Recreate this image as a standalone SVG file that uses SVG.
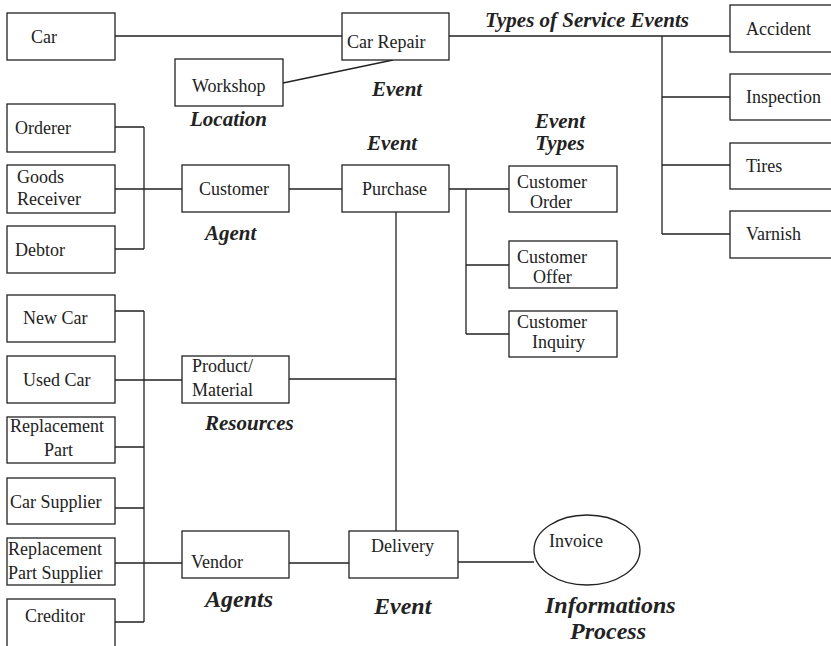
<svg xmlns="http://www.w3.org/2000/svg" width="831" height="646" viewBox="0 0 831 646">
<style>
.b{fill:#fff;stroke:#222;stroke-width:1.3}
.t{font-family:"Liberation Serif",serif;font-size:18px;fill:#222}
.l{font-family:"Liberation Serif",serif;font-size:21px;font-weight:bold;font-style:italic;fill:#222}
.L{font-family:"Liberation Serif",serif;font-size:24px;font-weight:bold;font-style:italic;fill:#222}
.c{fill:none;stroke:#222;stroke-width:1.3}
</style>
<rect width="831" height="646" fill="#fff"/>
<g id="connectors">
<path class="c" d="M115 36H342M449 36H730M283 83L393 60M662 36V234M662 97H730M662 165H730M662 234H730"/>
<path class="c" d="M115 127H144M115 189H182M115 249H144M144 127V249M289 189H342"/>
<path class="c" d="M449 189H509M466 189V334M466 265H509M466 334H509M396 212V531"/>
<path class="c" d="M115 311H144M144 311V622M115 380H182M115 447H144M115 508H144M115 563H182M115 622H144M289 379H396"/>
<path class="c" d="M289 563H349M458 562H534"/>
</g>
<g id="car"><rect class="b" x="7" y="13" width="108" height="47"/><text class="t" x="31" y="43">Car</text></g>
<g id="car-repair"><rect class="b" x="342" y="13" width="107" height="47"/><text class="t" x="347" y="48">Car Repair</text></g>
<g id="workshop"><rect class="b" x="175" y="59" width="108" height="47"/><text class="t" x="192" y="92">Workshop</text></g>
<g id="accident"><rect class="b" x="730" y="5" width="110" height="47"/><text class="t" x="746" y="35">Accident</text></g>
<g id="inspection"><rect class="b" x="730" y="74" width="110" height="46"/><text class="t" x="746" y="103">Inspection</text></g>
<g id="tires"><rect class="b" x="730" y="143" width="110" height="46"/><text class="t" x="746" y="172">Tires</text></g>
<g id="varnish"><rect class="b" x="730" y="211" width="110" height="47"/><text class="t" x="746" y="240">Varnish</text></g>
<g id="orderer"><rect class="b" x="7" y="104" width="108" height="48"/><text class="t" x="15" y="134">Orderer</text></g>
<g id="goods-receiver"><rect class="b" x="7" y="165" width="108" height="48"/><text class="t" x="17" y="183">Goods</text><text class="t" x="17" y="205">Receiver</text></g>
<g id="debtor"><rect class="b" x="7" y="226" width="108" height="47"/><text class="t" x="15" y="256">Debtor</text></g>
<g id="customer"><rect class="b" x="182" y="165" width="107" height="47"/><text class="t" x="199" y="195">Customer</text></g>
<g id="purchase"><rect class="b" x="342" y="165" width="107" height="47"/><text class="t" x="362" y="195">Purchase</text></g>
<g id="customer-order"><rect class="b" x="509" y="166" width="108" height="46"/><text class="t" x="517" y="188">Customer</text><text class="t" x="530" y="208">Order</text></g>
<g id="customer-offer"><rect class="b" x="509" y="241" width="108" height="47"/><text class="t" x="517" y="263">Customer</text><text class="t" x="533" y="283">Offer</text></g>
<g id="customer-inquiry"><rect class="b" x="509" y="311" width="108" height="46"/><text class="t" x="517" y="328">Customer</text><text class="t" x="532" y="348">Inquiry</text></g>
<g id="new-car"><rect class="b" x="7" y="295" width="108" height="47"/><text class="t" x="23" y="324">New Car</text></g>
<g id="used-car"><rect class="b" x="7" y="356" width="108" height="47"/><text class="t" x="23" y="386">Used Car</text></g>
<g id="replacement-part"><rect class="b" x="7" y="417" width="108" height="46"/><text class="t" x="10" y="432">Replacement</text><text class="t" x="44" y="456">Part</text></g>
<g id="product-material"><rect class="b" x="182" y="356" width="107" height="47"/><text class="t" x="192" y="372">Product/</text><text class="t" x="192" y="396">Material</text></g>
<g id="car-supplier"><rect class="b" x="7" y="478" width="108" height="46"/><text class="t" x="10" y="508">Car Supplier</text></g>
<g id="replacement-part-supplier"><rect class="b" x="7" y="538" width="108" height="47"/><text class="t" x="8" y="555">Replacement</text><text class="t" x="8" y="579">Part Supplier</text></g>
<g id="creditor"><rect class="b" x="7" y="599" width="108" height="52"/><text class="t" x="25" y="622">Creditor</text></g>
<g id="vendor"><rect class="b" x="182" y="531" width="107" height="47"/><text class="t" x="191" y="568">Vendor</text></g>
<g id="delivery"><rect class="b" x="349" y="531" width="109" height="47"/><text class="t" x="371" y="552">Delivery</text></g>
<g id="invoice"><ellipse class="b" cx="587" cy="550" rx="53" ry="35"/><text class="t" x="549" y="547">Invoice</text></g>
<g id="labels">
<text class="l" x="485" y="27">Types of Service Events</text>
<text class="l" x="372" y="96">Event</text>
<text class="l" x="190" y="126">Location</text>
<text class="l" x="367" y="150">Event</text>
<text class="l" x="560" y="128" text-anchor="middle">Event</text>
<text class="l" x="560" y="150" text-anchor="middle">Types</text>
<text class="l" x="205" y="240">Agent</text>
<text class="l" x="205" y="430">Resources</text>
<text class="L" x="205" y="607">Agents</text>
<text class="L" x="374" y="614">Event</text>
<text class="L" x="545" y="613">Informations</text>
<text class="L" x="570" y="639">Process</text>
</g>
</svg>
